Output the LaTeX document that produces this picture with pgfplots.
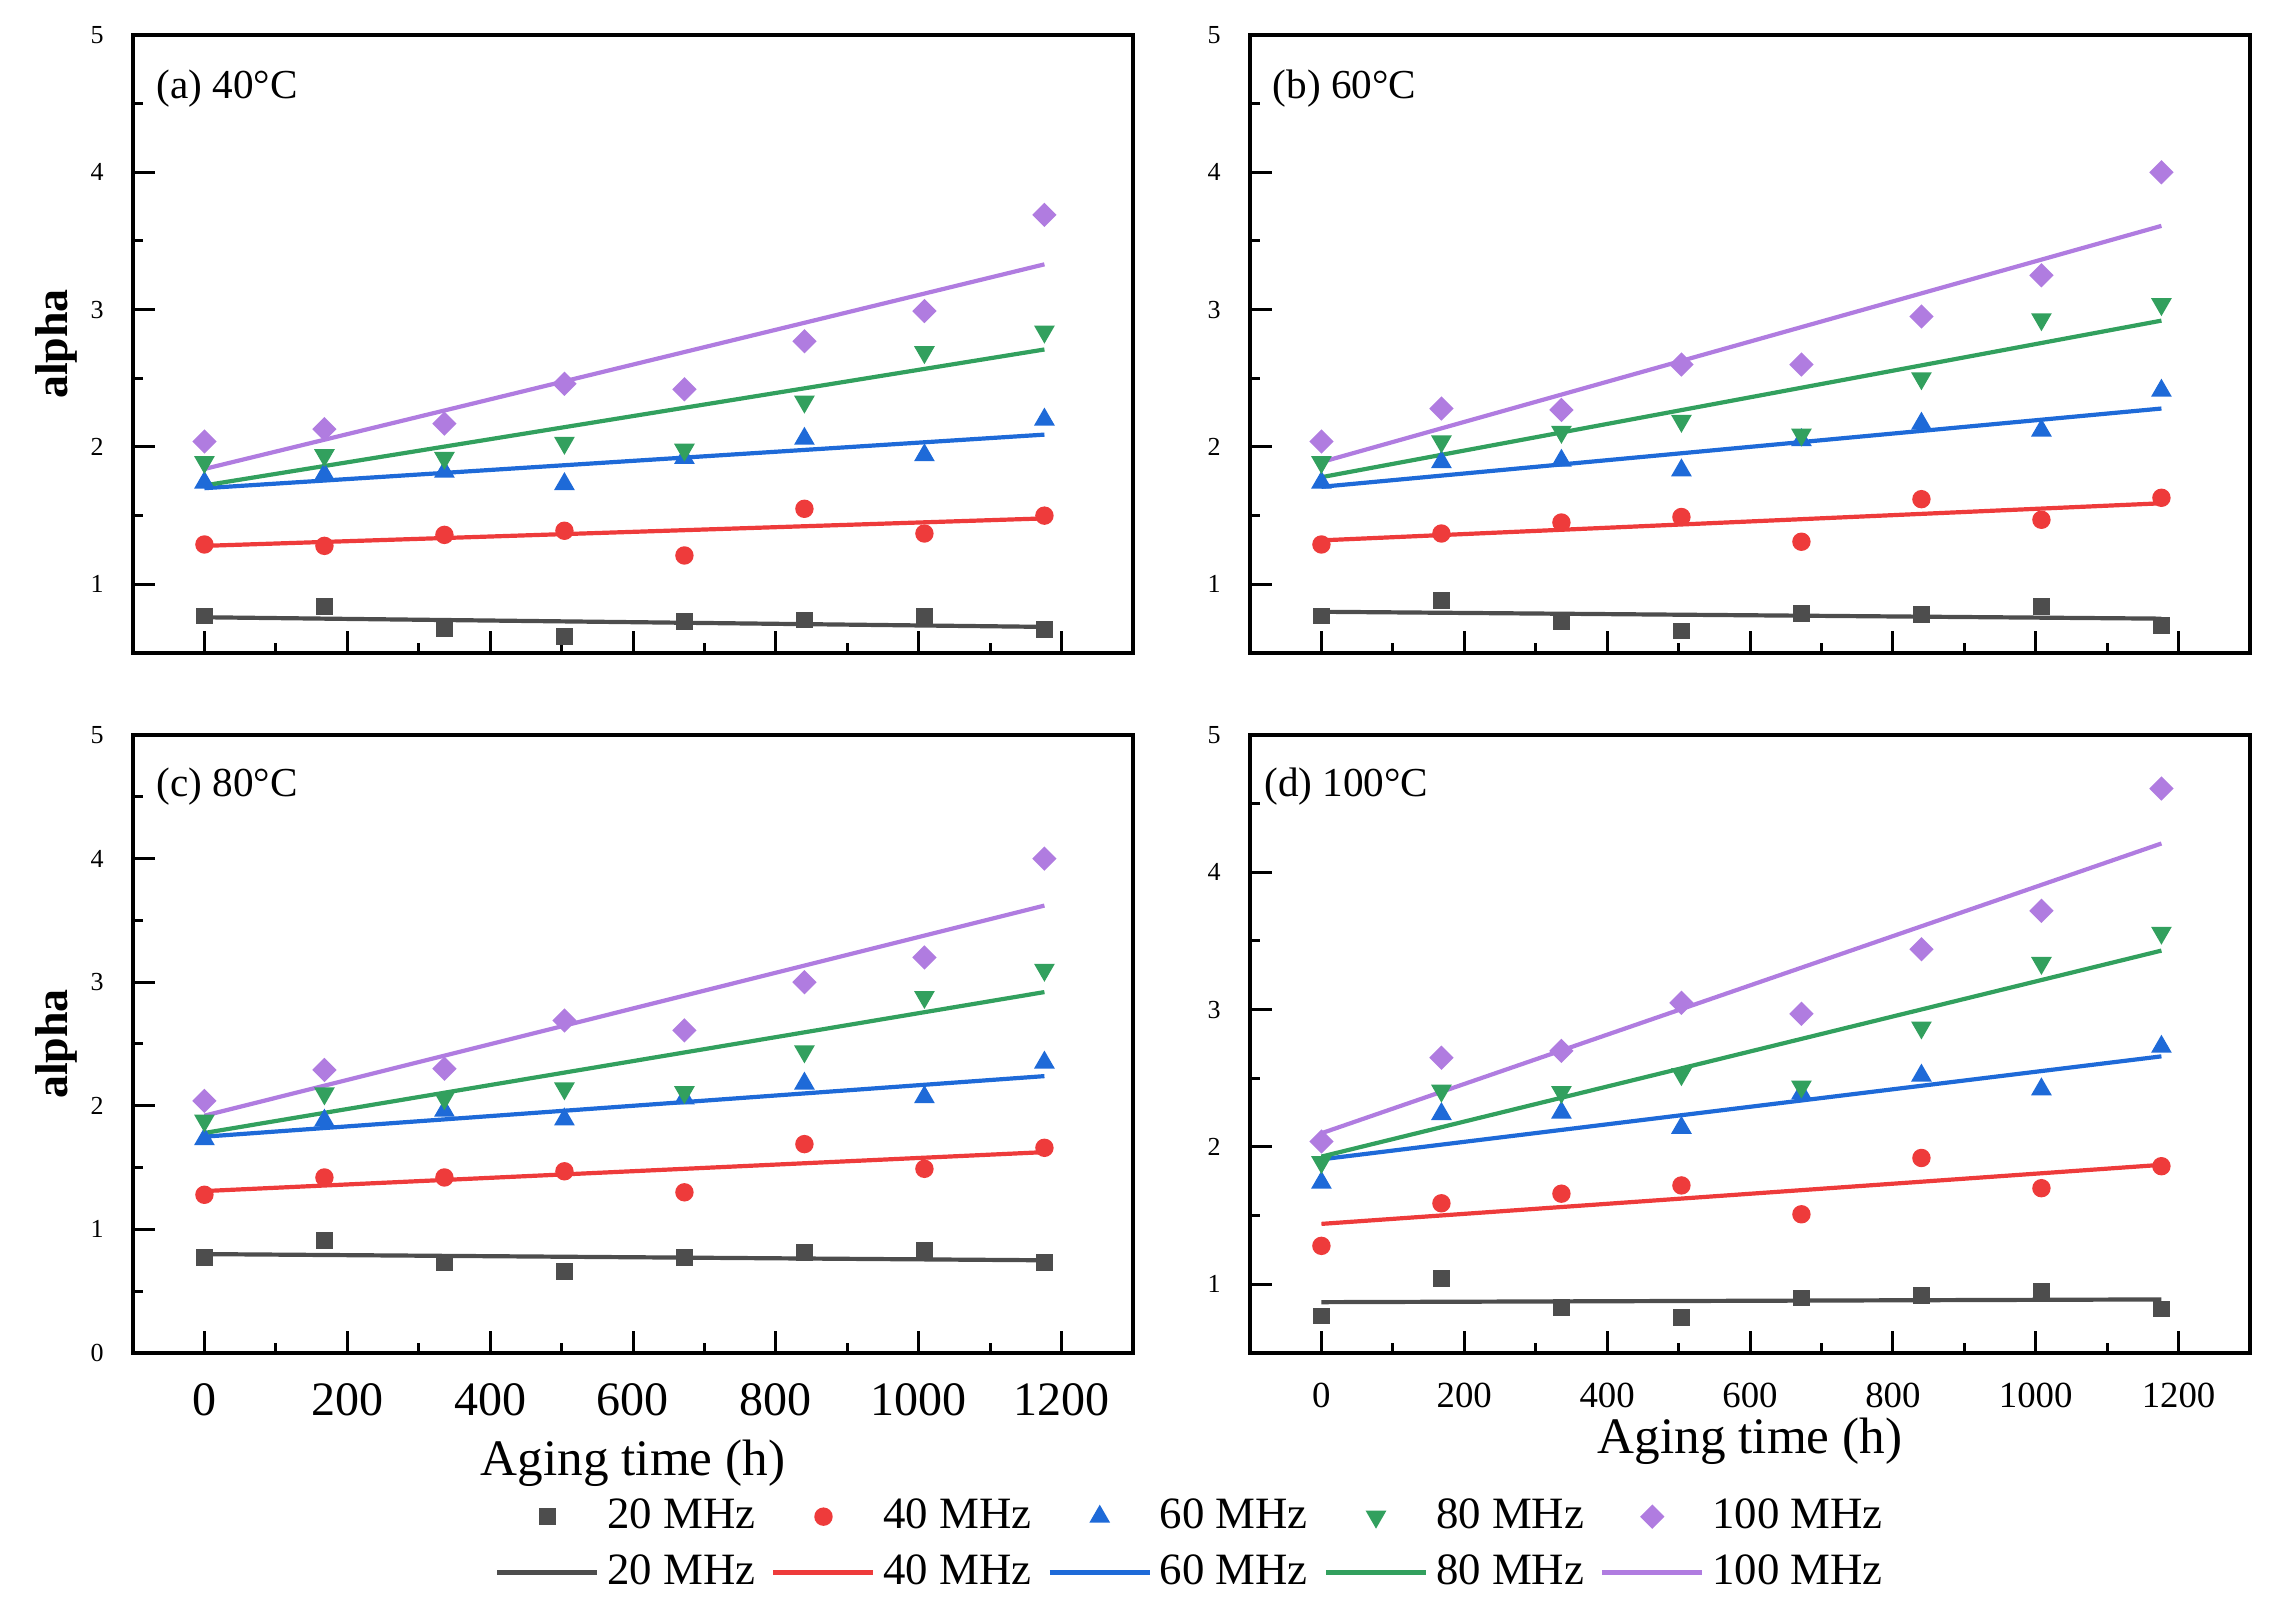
\documentclass[border=0pt]{standalone}
\usepackage{fontspec}
\setmainfont{Liberation Serif}
\usepackage{pgfplots}
\usepackage{pgfplotstable}
\pgfplotsset{compat=1.18}

\definecolor{cgray}{HTML}{4D4D4D}
\definecolor{cred}{HTML}{EE3B3B}
\definecolor{cblue}{HTML}{1E6AD8}
\definecolor{cgreen}{HTML}{32A05E}
\definecolor{cpurple}{HTML}{B07CE0}

% panel (a) 40C
\pgfplotstableread{
x g r b gr p
0 0.77 1.29 1.74 1.89 2.04
168 0.84 1.28 1.80 1.94 2.13
336 0.68 1.36 1.82 1.92 2.17
504 0.62 1.39 1.73 2.03 2.46
672 0.73 1.21 1.92 1.98 2.42
840 0.74 1.55 2.06 2.33 2.77
1008 0.77 1.37 1.94 2.69 2.99
1176 0.67 1.50 2.20 2.84 3.69
}\tA
\pgfplotstableread{
x g r b gr p
0 0.76 1.28 1.70 1.72 1.84
1176 0.69 1.48 2.09 2.71 3.33
}\fA
% panel (b) 60C
\pgfplotstableread{
x g r b gr p
0 0.77 1.29 1.74 1.89 2.04
168 0.88 1.37 1.89 2.04 2.28
336 0.73 1.45 1.90 2.11 2.27
504 0.66 1.49 1.83 2.19 2.60
672 0.79 1.31 2.05 2.09 2.60
840 0.78 1.62 2.17 2.50 2.95
1008 0.84 1.47 2.12 2.93 3.25
1176 0.70 1.63 2.41 3.04 4.00
}\tB
\pgfplotstableread{
x g r b gr p
0 0.80 1.32 1.71 1.78 1.89
1176 0.75 1.59 2.28 2.92 3.61
}\fB
% panel (c) 80C
\pgfplotstableread{
x g r b gr p
0 0.77 1.28 1.73 1.88 2.04
168 0.91 1.42 1.88 2.10 2.29
336 0.73 1.42 1.96 2.06 2.30
504 0.66 1.47 1.89 2.14 2.69
672 0.77 1.30 2.06 2.11 2.61
840 0.81 1.69 2.18 2.44 3.00
1008 0.83 1.49 2.07 2.88 3.20
1176 0.73 1.66 2.35 3.10 4.00
}\tC
\pgfplotstableread{
x g r b gr p
0 0.80 1.31 1.75 1.78 1.92
1176 0.75 1.625 2.24 2.92 3.62
}\fC
% panel (d) 100C
\pgfplotstableread{
x g r b gr p
0 0.77 1.28 1.74 1.89 2.04
168 1.04 1.59 2.24 2.41 2.65
336 0.83 1.66 2.25 2.40 2.70
504 0.76 1.72 2.14 2.53 3.05
672 0.90 1.51 2.39 2.44 2.97
840 0.92 1.92 2.52 2.87 3.44
1008 0.95 1.70 2.42 3.34 3.72
1176 0.82 1.86 2.73 3.56 4.61
}\tD
\pgfplotstableread{
x g r b gr p
0 0.87 1.44 1.91 1.93 2.10
1176 0.89 1.87 2.66 3.43 4.21
}\fD

\tikzset{ptitle/.style={anchor=west, inner xsep=0pt, font=\fontsize{10.3}{12}\selectfont}}

\pgfplotsset{
  panel/.style={
    scale only axis, width=250pt, height=154.5pt,
    xmin=-100, xmax=1300, xtick={0,200,...,1200}, minor x tick num=1,
    ytick={0,1,...,5}, minor y tick num=1,
    tick pos=left, tick align=inside,
    major tick length=5.5pt, minor tick length=2.5pt,
    every tick/.style={black, line width=0.75pt},
    axis line style={line width=1.1pt},
    /pgf/number format/assume math mode=true,
    /pgf/number format/1000 sep={},
    yticklabel style={font=\fontsize{6.5}{7}\selectfont, xshift=-3.8pt},
    every axis y label/.style={at={(axis description cs:0,0.5)}, xshift=-19.25pt, rotate=90, anchor=center, font=\bfseries\fontsize{11.5}{13}\selectfont},
    every axis x label/.style={at={(axis description cs:0.5,0)}, anchor=center, font=\fontsize{12.8}{14}\selectfont},
    legend image code/.code={\draw[mark repeat=2,mark phase=2,##1] plot coordinates {(0pt,0pt) (12.5pt,0pt) (25pt,0pt)};},
  },
  sc/.style={only marks},
  s1/.style={sc, color=cgray, mark=square*, mark size=1.9pt},
  s2/.style={sc, color=cred, mark=*, mark size=2.1pt},
  s3/.style={sc, color=cblue, mark=triangle*, mark size=2.6pt},
  s4/.style={sc, color=cgreen, mark=triangle*, mark size=2.6pt, mark options={rotate=180}},
  s5/.style={sc, color=cpurple, mark=square*, mark size=1.95pt, mark options={rotate=45}},
  l1/.style={no marks, color=cgray, line width=1.05pt},
  l2/.style={no marks, color=cred, line width=1.05pt},
  l3/.style={no marks, color=cblue, line width=1.05pt},
  l4/.style={no marks, color=cgreen, line width=1.05pt},
  l5/.style={no marks, color=cpurple, line width=1.05pt},
}

\begin{document}
\begin{tikzpicture}
\useasboundingbox (0pt,0pt) rectangle (568.5pt,-403.75pt);

% (a)
\begin{axis}[panel, at={(33.25pt,-8.75pt)}, anchor=north west,
  ymin=0.5, ymax=5, xticklabels=\empty, ylabel={alpha}]
\addplot[s1] table[x=x,y=g]{\tA};
\addplot[s2] table[x=x,y=r]{\tA};
\addplot[s3] table[x=x,y=b]{\tA};
\addplot[s4] table[x=x,y=gr]{\tA};
\addplot[s5] table[x=x,y=p]{\tA};
\addplot[l1] table[x=x,y=g]{\fA};
\addplot[l2] table[x=x,y=r]{\fA};
\addplot[l3] table[x=x,y=b]{\fA};
\addplot[l4] table[x=x,y=gr]{\fA};
\addplot[l5] table[x=x,y=p]{\fA};
\node[ptitle] at (axis description cs:0,1) [xshift=5.75pt, yshift=-13.5pt] {(a) 40°C};
\end{axis}

% (b)
\begin{axis}[panel, at={(312.5pt,-8.75pt)}, anchor=north west,
  ymin=0.5, ymax=5, xticklabels=\empty]
\addplot[s1] table[x=x,y=g]{\tB};
\addplot[s2] table[x=x,y=r]{\tB};
\addplot[s3] table[x=x,y=b]{\tB};
\addplot[s4] table[x=x,y=gr]{\tB};
\addplot[s5] table[x=x,y=p]{\tB};
\addplot[l1] table[x=x,y=g]{\fB};
\addplot[l2] table[x=x,y=r]{\fB};
\addplot[l3] table[x=x,y=b]{\fB};
\addplot[l4] table[x=x,y=gr]{\fB};
\addplot[l5] table[x=x,y=p]{\fB};
\node[ptitle] at (axis description cs:0,1) [xshift=5.5pt, yshift=-13.5pt] {(b) 60°C};
\end{axis}

% (c)
\begin{axis}[panel, at={(33.25pt,-183.75pt)}, anchor=north west,
  ymin=0, ymax=5, ylabel={alpha}, xlabel={Aging time (h)},
  xticklabel style={font=\fontsize{12}{13}\selectfont, yshift=-4pt},
  xlabel style={yshift=-27.5pt},
  legend columns=5,
  legend style={at={(1.06,-0.31)}, anchor=center, draw=none, fill=none,
    font=\fontsize{11.2}{12}\selectfont,
    nodes={inner xsep=2pt, inner ysep=1pt},
    /tikz/row sep=3pt,
    /tikz/every even column/.append style={column sep=2pt}},
]
\addplot[s1] table[x=x,y=g]{\tC};
\addplot[s2] table[x=x,y=r]{\tC};
\addplot[s3] table[x=x,y=b]{\tC};
\addplot[s4] table[x=x,y=gr]{\tC};
\addplot[s5] table[x=x,y=p]{\tC};
\addplot[l1] table[x=x,y=g]{\fC};
\addplot[l2] table[x=x,y=r]{\fC};
\addplot[l3] table[x=x,y=b]{\fC};
\addplot[l4] table[x=x,y=gr]{\fC};
\addplot[l5] table[x=x,y=p]{\fC};
\legend{20 MHz,40 MHz,60 MHz,80 MHz,100 MHz,20 MHz,40 MHz,60 MHz,80 MHz,100 MHz}
\node[ptitle] at (axis description cs:0,1) [xshift=5.75pt, yshift=-13pt] {(c) 80°C};
\end{axis}

% (d)
\begin{axis}[panel, at={(312.5pt,-183.75pt)}, anchor=north west,
  ymin=0.5, ymax=5, xlabel={Aging time (h)},
  xticklabel style={font=\fontsize{9.2}{10}\selectfont, yshift=-4pt},
  xlabel style={yshift=-22pt}]
\addplot[s1] table[x=x,y=g]{\tD};
\addplot[s2] table[x=x,y=r]{\tD};
\addplot[s3] table[x=x,y=b]{\tD};
\addplot[s4] table[x=x,y=gr]{\tD};
\addplot[s5] table[x=x,y=p]{\tD};
\addplot[l1] table[x=x,y=g]{\fD};
\addplot[l2] table[x=x,y=r]{\fD};
\addplot[l3] table[x=x,y=b]{\fD};
\addplot[l4] table[x=x,y=gr]{\fD};
\addplot[l5] table[x=x,y=p]{\fD};
\node[ptitle] at (axis description cs:0,1) [xshift=3.4pt, yshift=-13pt] {(d) 100°C};
\end{axis}
\end{tikzpicture}
\end{document}
